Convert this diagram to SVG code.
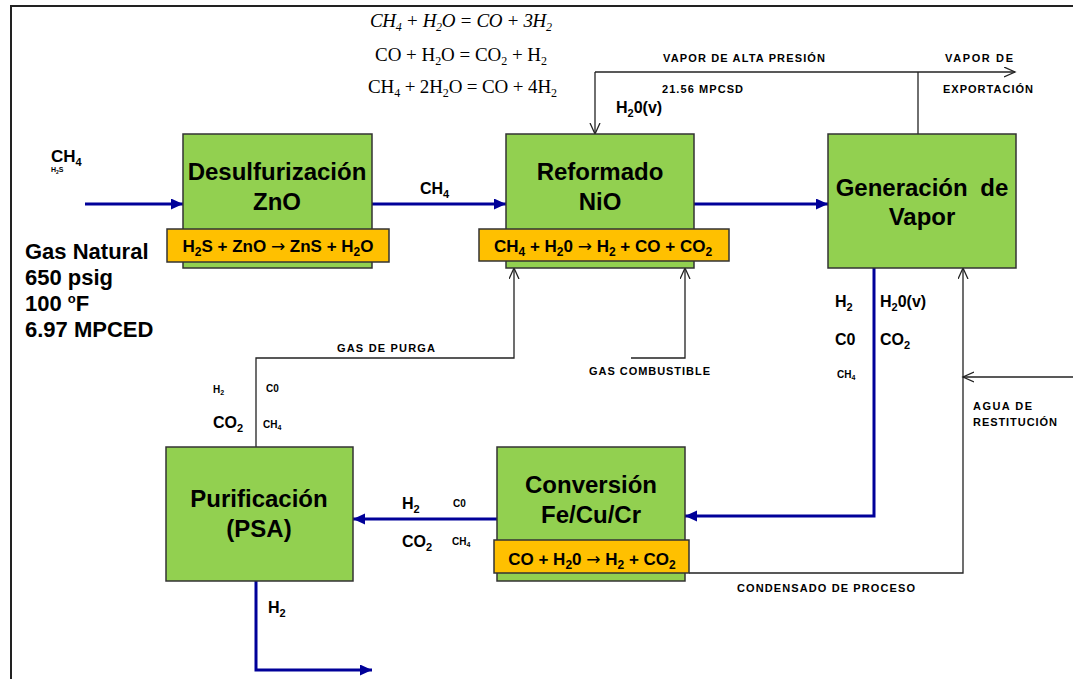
<svg xmlns="http://www.w3.org/2000/svg" width="1073" height="679" viewBox="0 0 1073 679">
  <style>
    text { font-family: "Liberation Sans", Arial, sans-serif; font-weight: bold; fill: #000; }
    .eq { font-family: "Liberation Serif", "Times New Roman", serif; font-weight: normal; font-size: 19px; }
    .title { font-size: 24px; text-anchor: middle; }
    .rx { font-size: 17px; text-anchor: middle; }
    .arw { font-family: "DejaVu Sans", sans-serif; font-weight: normal; font-size: 17px; }
    .big { font-size: 16px; }
    .mid { font-size: 22px; }
    .tiny { font-size: 10px; }
    .cap { font-size: 11px; }
    .unit { fill: #92D050; stroke: #333; stroke-width: 1.5; }
    .react { fill: #FFC000; stroke: #333; stroke-width: 1.5; }
    .flow { fill: none; stroke: #000099; stroke-width: 3; }
    .util { fill: none; stroke: #222; stroke-width: 1.3; }
  </style>
  <defs>
    <marker id="blueHead" markerUnits="userSpaceOnUse" markerWidth="13" markerHeight="12" refX="12" refY="5.5" orient="auto">
      <path d="M0,0 L12,5.5 L0,11 Z" fill="#000099"/>
    </marker>
    <marker id="openHead" markerUnits="userSpaceOnUse" markerWidth="13" markerHeight="12" refX="11" refY="5.5" orient="auto">
      <path d="M0,0.5 L11,5.5 L0,10.5" fill="none" stroke="#222" stroke-width="1.3"/>
    </marker>
  </defs>

  <rect width="1073" height="679" fill="#fff"/>
  <!-- frame -->
  <path d="M11,679 V6 H1073" fill="none" stroke="#222" stroke-width="2"/>

  <!-- reaction equations -->
  <g id="equations">
    <text class="eq" x="370" y="27" font-style="italic" textLength="182" lengthAdjust="spacing">CH<tspan font-size="12" dy="4">4</tspan><tspan dy="-4"> + H</tspan><tspan font-size="12" dy="4">2</tspan><tspan dy="-4">O = CO + 3H</tspan><tspan font-size="12" dy="4">2</tspan></text>
    <text class="eq" x="375" y="61" textLength="172" lengthAdjust="spacing">CO + H<tspan font-size="12" dy="4">2</tspan><tspan dy="-4">O = CO</tspan><tspan font-size="12" dy="4">2</tspan><tspan dy="-4"> + H</tspan><tspan font-size="12" dy="4">2</tspan></text>
    <text class="eq" x="368" y="93" textLength="189" lengthAdjust="spacing">CH<tspan font-size="12" dy="4">4</tspan><tspan dy="-4"> + 2H</tspan><tspan font-size="12" dy="4">2</tspan><tspan dy="-4">O = CO + 4H</tspan><tspan font-size="12" dy="4">2</tspan></text>
  </g>

  <!-- connectors -->
  <g id="connectors">
    <path class="flow" d="M85,204 H183" marker-end="url(#blueHead)"/>
    <path class="flow" d="M372,204 H506" marker-end="url(#blueHead)"/>
    <path class="flow" d="M694,204 H828" marker-end="url(#blueHead)"/>
    <path class="flow" d="M874,268 V516 H685" marker-end="url(#blueHead)"/>
    <path class="flow" d="M497,519 H353" marker-end="url(#blueHead)"/>
    <path class="flow" d="M256,580 V670 H372" marker-end="url(#blueHead)"/>

    <path class="util" d="M918,134 V72"/>
    <path class="util" d="M595,72 H1015" marker-end="url(#openHead)"/>
    <path class="util" d="M595,72 V134" marker-end="url(#openHead)"/>
    <path class="util" d="M256,447 V358 H514 V268" marker-end="url(#openHead)"/>
    <path class="util" d="M631,358 H685 V268" marker-end="url(#openHead)"/>
    <path class="util" d="M689,573 H963 V268" marker-end="url(#openHead)"/>
    <path class="util" d="M1073,377 H963" marker-end="url(#openHead)"/>
  </g>

  <!-- process units -->
  <g id="desulfurizacion">
    <rect class="unit" x="183" y="134" width="189" height="134"/>
    <text class="title" x="277" y="180">Desulfurización</text>
    <text class="title" x="277" y="210">ZnO</text>
    <rect class="react" x="167" y="229" width="222" height="33"/>
    <text class="rx" x="278" y="252">H<tspan font-size="12" dy="4">2</tspan><tspan dy="-4">S + ZnO </tspan><tspan class="arw">→</tspan> ZnS + H<tspan font-size="12" dy="4">2</tspan><tspan dy="-4">O</tspan></text>
  </g>

  <g id="reformado">
    <rect class="unit" x="506" y="134" width="188" height="134"/>
    <text class="title" x="600" y="180">Reformado</text>
    <text class="title" x="600" y="210">NiO</text>
    <rect class="react" x="479" y="229" width="250" height="32"/>
    <text class="rx" x="603" y="252">CH<tspan font-size="12" dy="4">4</tspan><tspan dy="-4"> + H</tspan><tspan font-size="12" dy="4">2</tspan><tspan dy="-4">0 </tspan><tspan class="arw">→</tspan> H<tspan font-size="12" dy="4">2</tspan><tspan dy="-4"> + CO + CO</tspan><tspan font-size="12" dy="4">2</tspan></text>
  </g>

  <g id="generacion">
    <rect class="unit" x="828" y="134" width="188" height="134"/>
    <text class="title" x="922" y="196" word-spacing="6">Generación de</text>
    <text class="title" x="922" y="225">Vapor</text>
  </g>

  <g id="conversion">
    <rect class="unit" x="497" y="447" width="188" height="134"/>
    <text class="title" x="591" y="493">Conversión</text>
    <text class="title" x="591" y="523">Fe/Cu/Cr</text>
    <rect class="react" x="494" y="540" width="195" height="33"/>
    <text class="rx" x="592" y="565">CO + H<tspan font-size="12" dy="4">2</tspan><tspan dy="-4">0 </tspan><tspan class="arw">→</tspan> H<tspan font-size="12" dy="4">2</tspan><tspan dy="-4"> + CO</tspan><tspan font-size="12" dy="4">2</tspan></text>
  </g>

  <g id="purificacion">
    <rect class="unit" x="166" y="447" width="187" height="134"/>
    <text class="title" x="259" y="507">Purificación</text>
    <text class="title" x="259" y="537">(PSA)</text>
  </g>

  <!-- stream labels -->
  <g id="feed-labels">
    <text x="51" y="162" font-size="17">CH<tspan font-size="11" dy="4">4</tspan></text>
    <text x="51" y="172" font-size="7" font-weight="normal">H<tspan font-size="5" dy="1.5">2</tspan><tspan dy="-1.5">S</tspan></text>
    <text class="mid" x="25" y="259">Gas Natural</text>
    <text class="mid" x="25" y="285">650 psig</text>
    <text class="mid" x="25" y="311">100 <tspan font-size="13" dy="-8">o</tspan><tspan dy="8">F</tspan></text>
    <text class="mid" x="25" y="337">6.97 MPCED</text>
    <text class="big" x="420" y="194">CH<tspan font-size="11" dy="4">4</tspan></text>
  </g>

  <g id="steam-labels">
    <text class="cap" x="663" y="62" textLength="162" lengthAdjust="spacing">VAPOR DE ALTA PRESIÓN</text>
    <text class="cap" x="662" y="93" textLength="81" lengthAdjust="spacing">21.56 MPCSD</text>
    <text class="big" x="616" y="113">H<tspan font-size="11" dy="4">2</tspan><tspan dy="-4">0(v)</tspan></text>
    <text class="cap" x="945" y="62" textLength="68" lengthAdjust="spacing">VAPOR  DE</text>
    <text class="cap" x="943" y="93" textLength="90" lengthAdjust="spacing">EXPORTACIÓN</text>
  </g>

  <g id="reformed-gas-labels">
    <text class="big" x="835" y="307">H<tspan font-size="11" dy="4">2</tspan></text>
    <text class="big" x="880" y="307">H<tspan font-size="11" dy="4">2</tspan><tspan dy="-4">0(v)</tspan></text>
    <text class="big" x="835" y="345">C0</text>
    <text class="big" x="880" y="345">CO<tspan font-size="11" dy="4">2</tspan></text>
    <text class="tiny" x="837" y="378">CH<tspan font-size="7" dy="2">4</tspan></text>
    <text class="cap" x="973" y="410" textLength="59" lengthAdjust="spacing">AGUA DE</text>
    <text class="cap" x="973" y="426" textLength="84" lengthAdjust="spacing">RESTITUCIÓN</text>
  </g>

  <g id="purge-labels">
    <text class="cap" x="337" y="352" textLength="98" lengthAdjust="spacing">GAS DE PURGA</text>
    <text class="cap" x="589" y="375" textLength="121" lengthAdjust="spacing">GAS COMBUSTIBLE</text>
    <text class="tiny" x="213" y="393">H<tspan font-size="7" dy="2">2</tspan></text>
    <text class="tiny" x="266" y="392">C0</text>
    <text class="big" x="213" y="428">CO<tspan font-size="11" dy="4">2</tspan></text>
    <text class="tiny" x="263" y="428">CH<tspan font-size="7" dy="2">4</tspan></text>
  </g>

  <g id="shift-gas-labels">
    <text class="big" x="402" y="509">H<tspan font-size="11" dy="4">2</tspan></text>
    <text class="tiny" x="453" y="507">C0</text>
    <text class="big" x="402" y="547">CO<tspan font-size="11" dy="4">2</tspan></text>
    <text class="tiny" x="452" y="545">CH<tspan font-size="7" dy="2">4</tspan></text>
    <text class="cap" x="737" y="592" textLength="178" lengthAdjust="spacing">CONDENSADO DE PROCESO</text>
    <text class="big" x="268" y="613">H<tspan font-size="11" dy="4">2</tspan></text>
  </g>
</svg>
